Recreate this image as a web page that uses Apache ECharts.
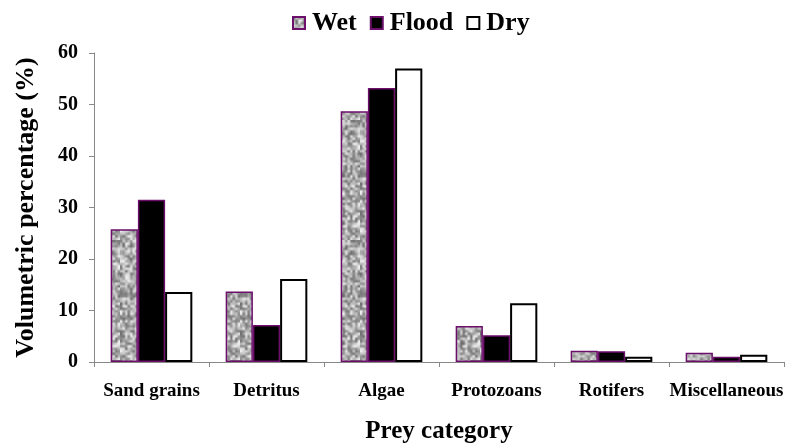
<!DOCTYPE html>
<html>
<head>
<meta charset="utf-8">
<script src="https://cdn.jsdelivr.net/npm/echarts@6/dist/echarts.min.js"></script>
<style>
  html, body { margin: 0; padding: 0; background: #fff; }
  #chart { width: 786px; height: 447px; }
</style>
</head>
<body>
<div id="chart"></div>
<script>
// Prey categories and volumetric percentages per season
const categories = ['Sand grains', 'Detritus', 'Algae', 'Protozoans', 'Rotifers', 'Miscellaneous'];
const wet   = [25.8, 13.7, 48.7, 7.0, 2.2, 1.8];
const flood = [31.5, 7.2, 53.2, 5.2, 2.1, 1.0];
const dry   = [13.6, 16.1, 57.0, 11.4, 1.0, 1.4];
const yTicks = [0, 10, 20, 30, 40, 50, 60];

// Soft granite-like grey texture for the "Wet" bars (seeded so it is stable)
function makeGranite() {
  const n = 48, scale = 2.5;
  const small = document.createElement('canvas');
  small.width = n; small.height = n;
  const sctx = small.getContext('2d');
  const img = sctx.createImageData(n, n);
  let s = 987654;
  const rnd = () => { s = (s * 1103515245 + 12345) & 0x7fffffff; return s / 0x7fffffff; };
  for (let i = 0; i < n * n; i++) {
    const g = Math.floor(105 + rnd() * 140);
    img.data[i * 4] = g; img.data[i * 4 + 1] = g; img.data[i * 4 + 2] = g; img.data[i * 4 + 3] = 255;
  }
  sctx.putImageData(img, 0, 0);
  const c = document.createElement('canvas');
  c.width = n * scale; c.height = n * scale;
  const ctx = c.getContext('2d');
  ctx.imageSmoothingEnabled = true;
  ctx.drawImage(small, 0, 0, c.width, c.height);
  return c;
}
const granite = { image: makeGranite(), repeat: 'repeat' };

const serif = '"Liberation Serif", "Times New Roman", serif';
const purple = '#6b0f6b';

const chart = echarts.init(document.getElementById('chart'));
chart.setOption({
  animation: false,
  legend: {
    top: 5,
    left: 287,
    icon: 'rect',
    itemWidth: 12,
    itemHeight: 12,
    itemGap: 13,
    textStyle: { fontFamily: serif, fontWeight: 'bold', fontSize: 26, color: '#000', padding: [0, 0, 0, 2] },
    data: ['Wet', 'Flood', 'Dry']
  },
  grid: { left: 94, right: 2, top: 53, bottom: 85, containLabel: false, outerBoundsMode: 'none' },
  xAxis: {
    type: 'category',
    data: categories,
    name: 'Prey category',
    nameLocation: 'middle',
    nameGap: 57,
    nameTextStyle: { fontFamily: serif, fontWeight: 'bold', fontSize: 25, color: '#000' },
    axisLine: { lineStyle: { color: '#888', width: 1 } },
    axisTick: { show: true, alignWithLabel: false, length: 5, lineStyle: { color: '#888' } },
    axisLabel: { fontFamily: serif, fontWeight: 'bold', fontSize: 19, color: '#000', margin: 20, interval: 0 }
  },
  yAxis: {
    type: 'value',
    min: yTicks[0],
    max: yTicks[yTicks.length - 1],
    interval: 10,
    name: 'Volumetric percentage (%)',
    nameLocation: 'middle',
    nameGap: 55,
    nameTextStyle: { fontFamily: serif, fontWeight: 'bold', fontSize: 26, color: '#000' },
    axisLine: { show: true, lineStyle: { color: '#888', width: 1 } },
    axisTick: { show: true, length: 5, lineStyle: { color: '#888' } },
    splitLine: { show: false },
    axisLabel: { fontFamily: serif, fontWeight: 'bold', fontSize: 20, color: '#000', margin: 16 }
  },
  series: [
    {
      name: 'Wet', type: 'bar', data: wet,
      barGap: '0%', barCategoryGap: '29%',
      itemStyle: { color: granite, borderColor: purple, borderWidth: 1.5 }
    },
    {
      name: 'Flood', type: 'bar', data: flood,
      barGap: '0%', barCategoryGap: '29%',
      itemStyle: { color: '#000', borderColor: purple, borderWidth: 1.5 }
    },
    {
      name: 'Dry', type: 'bar', data: dry,
      barGap: '0%', barCategoryGap: '29%',
      itemStyle: { color: '#fff', borderColor: '#000', borderWidth: 2 }
    }
  ]
});
</script>
</body>
</html>
